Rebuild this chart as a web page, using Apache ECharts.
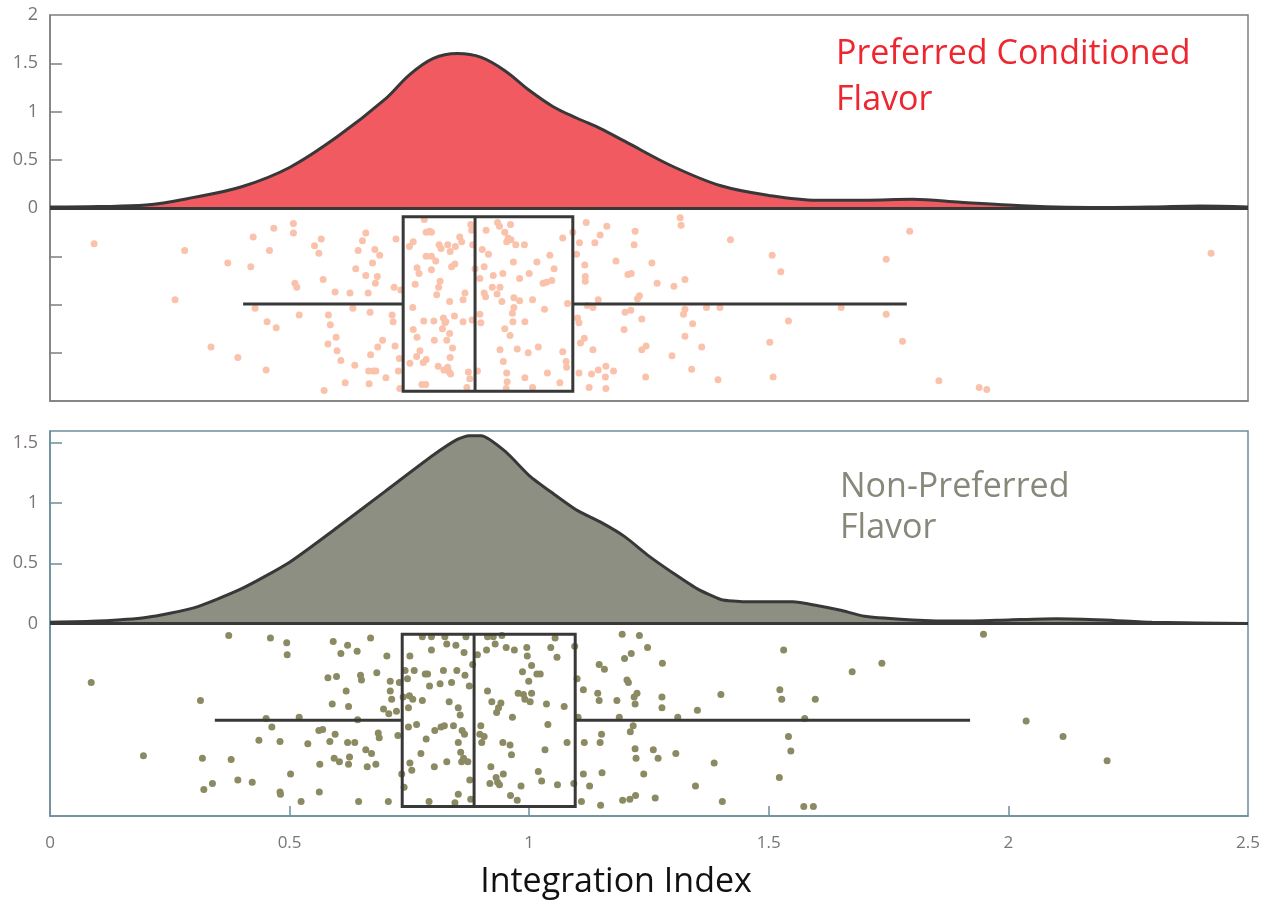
<!DOCTYPE html>
<html>
<head>
<meta charset="utf-8">
<title>Integration Index</title>
<script src="https://cdn.jsdelivr.net/npm/echarts@6/dist/echarts.min.js"></script>
<style>
  html, body { margin: 0; padding: 0; background: #fff; }
  #chart { width: 1271px; height: 902px; }
</style>
</head>
<body>
<div id="chart"></div>
<script>
// Kernel density estimates of the integration index, [index, density]
const prefDensity = [
  [0, 0.01], [0.1, 0.015], [0.2, 0.03], [0.3, 0.11], [0.4, 0.22], [0.5, 0.42],
  [0.6, 0.74], [0.7, 1.13], [0.75, 1.38], [0.8, 1.55], [0.85, 1.6], [0.9, 1.56],
  [0.95, 1.42], [1.0, 1.22], [1.05, 1.05], [1.1, 0.93], [1.15, 0.82], [1.2, 0.69],
  [1.3, 0.43], [1.4, 0.23], [1.5, 0.13], [1.6, 0.08], [1.7, 0.08], [1.8, 0.09],
  [1.9, 0.06], [2.0, 0.03], [2.1, 0.01], [2.2, 0.005], [2.3, 0.01], [2.4, 0.02], [2.5, 0.01]
];
const nonPrefDensity = [
  [0, 0.01], [0.1, 0.02], [0.2, 0.05], [0.3, 0.13], [0.4, 0.29], [0.5, 0.51],
  [0.6, 0.8], [0.7, 1.1], [0.8, 1.4], [0.85, 1.53], [0.875, 1.56], [0.9, 1.56],
  [0.95, 1.43], [1.0, 1.23], [1.05, 1.08], [1.1, 0.94], [1.15, 0.84], [1.2, 0.72],
  [1.25, 0.56], [1.3, 0.42], [1.35, 0.29], [1.4, 0.2], [1.45, 0.18], [1.5, 0.18],
  [1.55, 0.18], [1.6, 0.15], [1.65, 0.11], [1.7, 0.06], [1.8, 0.03], [1.9, 0.02],
  [2.0, 0.03], [2.1, 0.04], [2.2, 0.03], [2.3, 0.01], [2.5, 0.0]
];

// Box summaries: [lower whisker, Q1, median, Q3, upper whisker]
const prefBox = [0.403, 0.737, 0.887, 1.091, 1.788];
const nonPrefBox = [0.344, 0.735, 0.885, 1.096, 1.92];
// Vertical band occupied by each box (top, bottom) in panel units
const prefBand = [-0.09, -1.9];
const nonPrefBand = [-0.09, -1.52];

// Individual observations: [index, jitter]
const prefPoints = [
  [0.092,-0.37],[0.281,-0.44],[0.261,-0.95],[0.336,-1.44],[0.371,-0.57],[0.392,-1.55],[0.419,-0.61],[0.424,-0.30],
  [0.428,-1.04],[0.451,-1.68],[0.453,-1.18],[0.458,-0.44],[0.467,-0.21],[0.472,-1.24],[0.508,-0.16],[0.508,-0.26],
  [0.511,-0.78],[0.515,-0.82],[0.520,-1.11],[0.552,-0.39],[0.561,-0.47],[0.566,-0.32],[0.570,-0.74],[0.572,-1.89],
  [0.580,-1.41],[0.581,-1.11],[0.585,-1.21],[0.595,-0.87],[0.597,-1.34],[0.599,-1.48],[0.607,-1.58],[0.616,-1.81],
  [0.626,-0.88],[0.632,-1.04],[0.636,-1.63],[0.638,-0.63],[0.643,-0.44],[0.652,-0.34],[0.659,-0.26],[0.659,-0.70],
  [0.664,-0.88],[0.665,-1.69],[0.666,-1.82],[0.668,-1.08],[0.669,-1.52],[0.673,-0.57],[0.675,-1.69],[0.678,-0.43],
  [0.679,-0.78],[0.680,-1.69],[0.683,-0.71],[0.684,-1.44],[0.688,-0.49],[0.694,-1.37],[0.701,-1.76],[0.714,-1.11],
  [0.716,-1.18],[0.718,-0.82],[0.720,-1.43],[0.722,-0.32],[0.727,-1.69],[0.729,-1.56],[0.730,-1.87],[0.732,-0.85],
  [0.750,-0.40],[0.751,-1.61],[0.757,-1.03],[0.758,-1.26],[0.758,-0.35],[0.762,-0.79],[0.766,-0.62],[0.766,-1.34],
  [0.765,-1.54],[0.770,-0.68],[0.772,-1.48],[0.776,-1.83],[0.779,-1.60],[0.780,-1.17],[0.781,-0.12],[0.784,-1.83],
  [0.785,-1.57],[0.785,-0.25],[0.792,-0.24],[0.796,-0.25],[0.796,-0.64],[0.785,-0.50],[0.796,-0.50],[0.801,-1.17],
  [0.802,-1.37],[0.805,-0.55],[0.807,-0.90],[0.810,-1.64],[0.811,-0.82],[0.812,-0.38],[0.814,-0.76],[0.816,-0.42],
  [0.819,-1.25],[0.821,-1.14],[0.822,-1.68],[0.824,-1.19],[0.826,-1.18],[0.828,-1.37],[0.830,-1.65],[0.830,-0.38],
  [0.833,-1.70],[0.834,-0.97],[0.834,-1.30],[0.835,-0.45],[0.835,-1.55],[0.836,-1.72],[0.838,-0.61],[0.840,-1.45],
  [0.844,-1.12],[0.845,-0.58],[0.846,-0.40],[0.855,-0.30],[0.859,-0.35],[0.862,-0.95],[0.862,-1.18],[0.866,-0.88],
  [0.870,-1.86],[0.873,-1.70],[0.876,-1.77],[0.878,-0.17],[0.881,-1.16],[0.880,-0.23],[0.882,-0.38],[0.887,-0.63],
  [0.892,-1.69],[0.897,-1.10],[0.897,-0.73],[0.899,-1.19],[0.902,-0.43],[0.906,-0.61],[0.906,-0.88],[0.909,-0.92],
  [0.910,-0.23],[0.915,-0.48],[0.923,-0.82],[0.925,-0.70],[0.933,-0.89],[0.934,-0.15],[0.938,-0.19],[0.939,-0.82],
  [0.939,-1.47],[0.943,-0.97],[0.945,-0.68],[0.946,-1.59],[0.949,-1.25],[0.949,-0.25],[0.952,-1.87],[0.953,-1.71],
  [0.954,-1.80],[0.953,-0.35],[0.956,-0.31],[0.960,-1.32],[0.961,-0.17],[0.962,-0.33],[0.965,-1.09],[0.966,-1.18],
  [0.967,-0.56],[0.968,-1.03],[0.968,-0.93],[0.972,-0.38],[0.975,-1.46],[0.980,-0.73],[0.980,-0.96],[0.991,-1.18],
  [0.991,-1.76],[0.990,-0.38],[0.998,-1.50],[1.000,-0.68],[1.007,-0.95],[1.007,-1.86],[1.016,-0.56],[1.019,-1.44],
  [1.029,-0.78],[1.032,-1.05],[1.036,-0.77],[1.038,-1.71],
  [1.043,-0.49],[1.052,-0.63],[1.047,-0.75],[1.070,-0.31],[1.070,-1.49],[1.077,-1.59],[1.078,-1.65],[1.080,-0.99],
  [1.064,-1.81],[1.091,-0.25],[1.099,-0.48],[1.101,-1.14],[1.104,-1.19],[1.105,-0.36],[1.104,-1.71],[1.115,-1.35],
  [1.107,-1.40],[1.116,-0.59],[1.117,-0.71],[1.117,-0.76],[1.119,-0.15],[1.121,-1.01],[1.125,-1.86],[1.130,-1.72],
  [1.133,-1.03],[1.133,-1.47],[1.137,-0.36],[1.144,-0.95],[1.144,-1.68],[1.148,-0.28],[1.159,-1.75],[1.160,-1.87],
  [1.160,-1.64],[1.162,-0.19],[1.176,-1.69],[1.181,-0.55],[1.200,-1.08],[1.198,-1.26],[1.206,-0.69],[1.212,-1.06],
  [1.213,-0.68],[1.219,-0.38],[1.221,-0.24],[1.226,-0.94],[1.230,-0.91],[1.235,-1.15],[1.235,-1.47],[1.243,-1.75],
  [1.244,-1.43],[1.256,-0.57],[1.267,-0.78],[1.298,-1.53],[1.302,-0.81],[1.315,-0.10],[1.317,-0.18],[1.322,-1.10],
  [1.325,-1.05],[1.325,-0.74],[1.325,-1.33],[1.339,-1.67],[1.341,-1.20],[1.360,-1.44],[1.370,-1.03],[1.394,-1.78],
  [1.398,-1.03],[1.420,-0.33],[1.502,-1.39],[1.507,-0.49],[1.509,-1.75],[1.525,-0.66],[1.541,-1.17],[1.651,-1.03],
  [1.745,-0.53],[1.745,-1.10],[1.779,-1.38],[1.794,-0.24],[1.855,-1.79],[1.939,-1.86],[1.955,-1.88],[2.423,-0.47]
];
const nonPrefPoints = [
  [0.086,-0.49],[0.195,-1.10],[0.314,-0.64],[0.318,-1.12],[0.321,-1.38],[0.339,-1.33],[0.373,-0.10],[0.378,-1.13],
  [0.392,-1.30],[0.422,-1.32],[0.436,-0.97],[0.451,-0.79],[0.460,-0.12],[0.463,-0.86],[0.480,-0.98],[0.480,-1.40],
  [0.481,-1.42],[0.494,-0.16],[0.495,-0.26],[0.502,-1.25],[0.520,-0.78],[0.524,-1.48],[0.538,-1.00],[0.561,-0.89],
  [0.562,-1.40],[0.563,-1.17],[0.569,-0.88],[0.580,-0.45],[0.584,-0.98],[0.589,-0.67],[0.591,-0.15],[0.593,-1.12],
  [0.595,-0.92],[0.598,-0.44],[0.604,-1.15],[0.607,-0.25],[0.618,-0.56],[0.621,-0.18],[0.621,-0.99],[0.623,-0.69],
  [0.623,-1.17],[0.625,-1.11],[0.636,-0.99],[0.641,-0.23],[0.642,-0.80],[0.644,-1.48],[0.648,-0.43],[0.650,-0.47],
  [0.659,-1.05],[0.662,-1.19],[0.669,-0.12],[0.671,-1.08],[0.680,-1.17],[0.682,-0.41],[0.685,-0.91],[0.687,-0.95],
  [0.696,-0.71],[0.703,-0.27],[0.706,-1.48],[0.707,-0.75],[0.710,-0.48],[0.710,-0.56],[0.713,-0.63],[0.723,-0.73],
  [0.726,-0.93],[0.729,-0.49],[0.734,-1.25],[0.737,-0.61],[0.739,-1.36],[0.741,-0.39],[0.746,-0.46],[0.748,-0.70],
  [0.748,-0.86],[0.750,-0.60],[0.751,-0.27],[0.751,-1.16],[0.755,-1.22],[0.757,-0.63],[0.760,-0.39],[0.765,-0.84],
  [0.774,-1.08],[0.777,-0.11],[0.777,-0.64],[0.783,-0.42],[0.785,-0.96],[0.788,-0.42],[0.791,-1.48],[0.792,-0.52],
  [0.796,-0.22],[0.796,-0.11],[0.802,-1.19],[0.803,-0.89],[0.814,-0.50],[0.816,-0.86],[0.821,-0.39],[0.823,-0.85],
  [0.824,-0.11],[0.828,-0.17],[0.828,-1.15],[0.833,-0.65],[0.838,-0.49],[0.842,-0.85],[0.845,-1.49],[0.847,-0.18],
  [0.849,-0.39],[0.852,-0.99],[0.852,-1.42],[0.852,-0.70],[0.856,-0.76],[0.857,-1.07],[0.859,-1.15],[0.860,-0.89],
  [0.863,-1.12],[0.864,-0.24],[0.865,-0.92],[0.866,-0.43],[0.868,-0.11],[0.872,-1.15],[0.875,-0.52],[0.876,-1.30],
  [0.878,-1.46],[0.882,-0.34],[0.892,-0.26],[0.897,-0.92],[0.899,-0.85],[0.901,-0.99],[0.906,-0.94],[0.911,-0.22],
  [0.913,-0.56],[0.913,-0.11],[0.918,-1.33],[0.920,-1.19],[0.922,-0.65],[0.925,-0.11],[0.929,-0.17],[0.931,-1.28],
  [0.932,-0.74],[0.934,-1.32],[0.936,-0.70],[0.938,-1.34],[0.941,-0.66],[0.943,-0.10],[0.945,-0.99],[0.946,-1.25],
  [0.952,-0.20],[0.960,-1.01],[0.961,-1.43],[0.963,-1.09],[0.965,-0.78],[0.969,-0.22],[0.975,-1.47],[0.977,-0.58],
  [0.983,-1.35],[0.986,-0.40],[0.988,-0.59],[0.991,-0.63],[0.995,-0.20],[0.996,-0.27],[0.999,-0.48],[1.002,-0.65],
  [1.005,-0.58],[1.005,-0.35],[1.016,-0.42],[1.019,-1.23],[1.023,-0.42],[1.026,-1.31],[1.033,-1.05],[1.036,-0.67],
  [1.039,-0.84],
  [1.045,-0.20],[1.054,-0.12],[1.058,-0.28],[1.073,-0.69],[1.079,-0.99],[1.059,-1.34],[1.093,-1.33],[1.095,-0.19],
  [1.100,-0.46],[1.102,-0.78],[1.109,-1.48],[1.113,-0.55],[1.113,-1.25],[1.115,-0.99],[1.126,-1.35],[1.143,-0.58],
  [1.146,-0.34],[1.146,-0.64],[1.149,-1.51],[1.148,-0.99],[1.151,-0.92],[1.152,-1.24],[1.157,-0.38],[1.183,-0.64],
  [1.188,-0.78],[1.194,-0.09],[1.195,-1.47],[1.199,-0.29],[1.204,-0.47],[1.207,-0.49],[1.210,-1.46],[1.211,-0.90],
  [1.213,-0.25],[1.217,-0.85],[1.219,-0.61],[1.221,-0.67],[1.221,-1.04],[1.223,-1.12],[1.225,-0.58],[1.222,-1.43],
  [1.230,-0.10],[1.239,-1.25],[1.247,-0.20],[1.259,-1.05],[1.263,-1.45],[1.269,-1.12],[1.277,-0.61],[1.278,-0.33],
  [1.277,-0.70],[1.306,-1.08],[1.310,-0.78],[1.347,-1.35],[1.351,-0.72],[1.386,-1.16],[1.400,-0.59],[1.403,-1.48],
  [1.522,-1.28],[1.523,-0.55],[1.527,-0.63],[1.531,-0.22],[1.541,-0.94],[1.546,-1.06],[1.573,-1.52],[1.575,-0.79],
  [1.593,-1.52],[1.597,-0.63],[1.674,-0.40],[1.736,-0.33],[1.948,-0.09],[2.037,-0.81],[2.114,-0.94],[2.206,-1.14]
];

// Axis ticks and labels
const xTickValues = [0.5, 1, 1.5, 2];
const xLabelValues = [0, 0.5, 1, 1.5, 2, 2.5];
const prefTickValues = [-1.5, -1, -0.5, 0.5, 1, 1.5];
const prefLabelValues = [0, 0.5, 1, 1.5, 2];
const nonPrefTickValues = [0.5, 1, 1.5];
const nonPrefLabelValues = [0, 0.5, 1, 1.5];

const FONT = '"Open Sans", "Noto Sans", sans-serif';
const INK = '#383838';
const LABEL_GREY = '#7a7474';
const TOP_FRAME = '#7f7f7f';
const BOTTOM_FRAME = '#6b8e9a';

function boxItem(params, api) {
  const lo = api.value(0), q1 = api.value(1), med = api.value(2), q3 = api.value(3), hi = api.value(4);
  const yT = api.value(5), yB = api.value(6);
  const yc = (yT + yB) / 2;
  const a = api.coord([q1, yT]);
  const b = api.coord([q3, yB]);
  const pLo = api.coord([lo, yc]);
  const pQ1 = api.coord([q1, yc]);
  const pQ3 = api.coord([q3, yc]);
  const pHi = api.coord([hi, yc]);
  const mT = api.coord([med, yT]);
  const mB = api.coord([med, yB]);
  const style = { stroke: INK, lineWidth: 3, fill: null };
  return {
    type: 'group',
    children: [
      { type: 'line', shape: { x1: pLo[0], y1: pLo[1], x2: pQ1[0], y2: pQ1[1] }, style },
      { type: 'line', shape: { x1: pQ3[0], y1: pQ3[1], x2: pHi[0], y2: pHi[1] }, style },
      { type: 'rect', shape: { x: a[0], y: a[1], width: b[0] - a[0], height: b[1] - a[1] }, style },
      { type: 'line', shape: { x1: mT[0], y1: mT[1], x2: mB[0], y2: mB[1] }, style }
    ]
  };
}

function yAxisFor(gridIndex, min, max, tickVals, labelVals, frame) {
  return {
    type: 'value', gridIndex, min, max,
    axisLine: { show: true, onZero: false, lineStyle: { color: frame, width: 1.5 } },
    axisTick: { show: true, inside: true, length: 12, customValues: tickVals, lineStyle: { color: frame, width: 1.5 } },
    axisLabel: { show: true, customValues: labelVals, color: LABEL_GREY, fontSize: 18, fontFamily: FONT, margin: 12 },
    splitLine: { show: false }
  };
}

const chart = echarts.init(document.getElementById('chart'), null, { renderer: 'canvas' });
chart.setOption({
  animation: false,
  backgroundColor: '#ffffff',
  grid: [
    { left: 50, top: 15, width: 1198, height: 386, show: true, borderColor: TOP_FRAME, borderWidth: 1.5, backgroundColor: 'transparent' },
    { left: 50, top: 431, width: 1198, height: 385, show: true, borderColor: BOTTOM_FRAME, borderWidth: 1.5, backgroundColor: 'transparent' }
  ],
  xAxis: [
    {
      type: 'value', gridIndex: 0, min: 0, max: 2.5,
      axisLine: { show: true, onZero: false, lineStyle: { color: TOP_FRAME, width: 1.5 } },
      axisTick: { show: false }, axisLabel: { show: false }, splitLine: { show: false }
    },
    {
      type: 'value', gridIndex: 1, min: 0, max: 2.5,
      axisLine: { show: true, onZero: false, lineStyle: { color: BOTTOM_FRAME, width: 1.5 } },
      axisTick: { show: true, inside: true, length: 10, customValues: xTickValues, lineStyle: { color: BOTTOM_FRAME, width: 1.5 } },
      axisLabel: { show: true, customValues: xLabelValues, color: LABEL_GREY, fontSize: 17, fontFamily: FONT, margin: 19 },
      splitLine: { show: false }
    }
  ],
  yAxis: [
    yAxisFor(0, -2, 2, prefTickValues, prefLabelValues, TOP_FRAME),
    yAxisFor(1, -1.6, 1.6, nonPrefTickValues, nonPrefLabelValues, BOTTOM_FRAME)
  ],
  series: [
    {
      name: 'Preferred density', type: 'line', xAxisIndex: 0, yAxisIndex: 0,
      data: prefDensity, smooth: 0.35, symbol: 'none', z: 2,
      lineStyle: { color: INK, width: 3 },
      areaStyle: { color: '#f15a61', opacity: 1, origin: 0 },
      markLine: { silent: true, symbol: 'none', label: { show: false }, lineStyle: { color: INK, width: 3, type: 'solid' }, data: [{ yAxis: 0 }] }
    },
    {
      name: 'Preferred points', type: 'scatter', xAxisIndex: 0, yAxisIndex: 0,
      data: prefPoints, symbolSize: 7, z: 3,
      itemStyle: { color: '#fac2ab', opacity: 1 }
    },
    {
      name: 'Preferred box', type: 'custom', xAxisIndex: 0, yAxisIndex: 0, z: 4,
      renderItem: boxItem,
      encode: { x: [0, 1, 2, 3, 4], y: [5, 6] },
      data: [prefBox.concat(prefBand)]
    },
    {
      name: 'Non-preferred density', type: 'line', xAxisIndex: 1, yAxisIndex: 1,
      data: nonPrefDensity, smooth: 0.2, symbol: 'none', z: 2,
      lineStyle: { color: INK, width: 3 },
      areaStyle: { color: '#8e8f83', opacity: 1, origin: 0 },
      markLine: { silent: true, symbol: 'none', label: { show: false }, lineStyle: { color: INK, width: 3, type: 'solid' }, data: [{ yAxis: 0 }] }
    },
    {
      name: 'Non-preferred points', type: 'scatter', xAxisIndex: 1, yAxisIndex: 1,
      data: nonPrefPoints, symbolSize: 7, z: 3,
      itemStyle: { color: '#8b8a63', opacity: 1 }
    },
    {
      name: 'Non-preferred box', type: 'custom', xAxisIndex: 1, yAxisIndex: 1, z: 4,
      renderItem: boxItem,
      encode: { x: [0, 1, 2, 3, 4], y: [5, 6] },
      data: [nonPrefBox.concat(nonPrefBand)]
    }
  ],
  graphic: [
    {
      type: 'text', left: 836, top: 31, z: 10,
      style: { text: 'Preferred Conditioned\nFlavor', fill: '#ee2630', fontSize: 34, fontFamily: FONT, lineHeight: 46 }
    },
    {
      type: 'text', left: 840, top: 467, z: 10,
      style: { text: 'Non-Preferred\nFlavor', fill: '#87887a', fontSize: 34, fontFamily: FONT, lineHeight: 41 }
    },
    {
      type: 'text', x: 616, y: 882, z: 10,
      style: { text: 'Integration Index', fill: '#111111', fontSize: 34, fontFamily: FONT, align: 'center', verticalAlign: 'middle' }
    }
  ]
});
</script>
</body>
</html>
